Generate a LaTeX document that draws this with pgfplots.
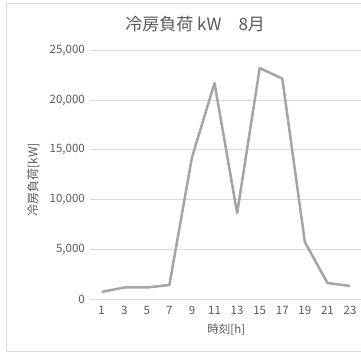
\documentclass[border=0pt]{standalone}
\usepackage{fontspec}
\setmainfont{Noto Sans CJK JP}
\usepackage{pgfplots}
\pgfplotsset{compat=1.18}
\definecolor{gridgray}{HTML}{D9D9D9}
\definecolor{linegray}{HTML}{A5A5A5}
\definecolor{textgray}{HTML}{595959}
\begin{document}
\begin{tikzpicture}[x=1pt,y=1pt]
\useasboundingbox (0,0) rectangle (361,354);
\draw[gridgray, line width=0.8pt] (6,3) rectangle (366,351);
\begin{axis}[
  at={(80,54.7)}, anchor=south west,
  width=271pt, height=249.3pt, scale only axis,
  xmin=0, xmax=24, ymin=0, ymax=25000,
  xtick={1,3,...,23}, ytick={0,5000,...,25000},
  scaled y ticks=false,
  /pgf/number format/assume math mode=true,
  ticklabel style={font=\fontsize{11.5}{13}\selectfont, text=textgray},
  xticklabel style={yshift=-3pt},
  yticklabel style={xshift=-2pt, /pgf/number format/1000 sep={,}},
  major tick length=0pt,
  axis line style={draw=none},
  ymajorgrids,
  grid style={gridgray, line width=0.8pt},
  title={冷房負荷 kW\hspace{1em}8月},
  title style={font=\fontsize{17}{20}\selectfont, text=textgray,
    at={(axis description cs:0.387,1.08)}, anchor=center},
  xlabel={時刻[h]},
  xlabel style={font=\fontsize{11.5}{13}\selectfont, text=textgray,
    at={(axis description cs:0.502,-0.123)}, anchor=center},
  ylabel={冷房負荷[kW]},
  ylabel style={font=\fontsize{12}{14}\selectfont, text=textgray,
    at={(axis description cs:-0.21,0.48)}, anchor=center},
  clip=false,
]
\addplot[linegray, line width=2.5pt, line join=round, mark=none] coordinates {
  (1,750) (3,1200) (5,1200) (7,1450) (9,14250) (11,21700)
  (13,8650) (15,23200) (17,22150) (19,5750) (21,1650) (23,1350)
};
\end{axis}
\end{tikzpicture}
\end{document}
